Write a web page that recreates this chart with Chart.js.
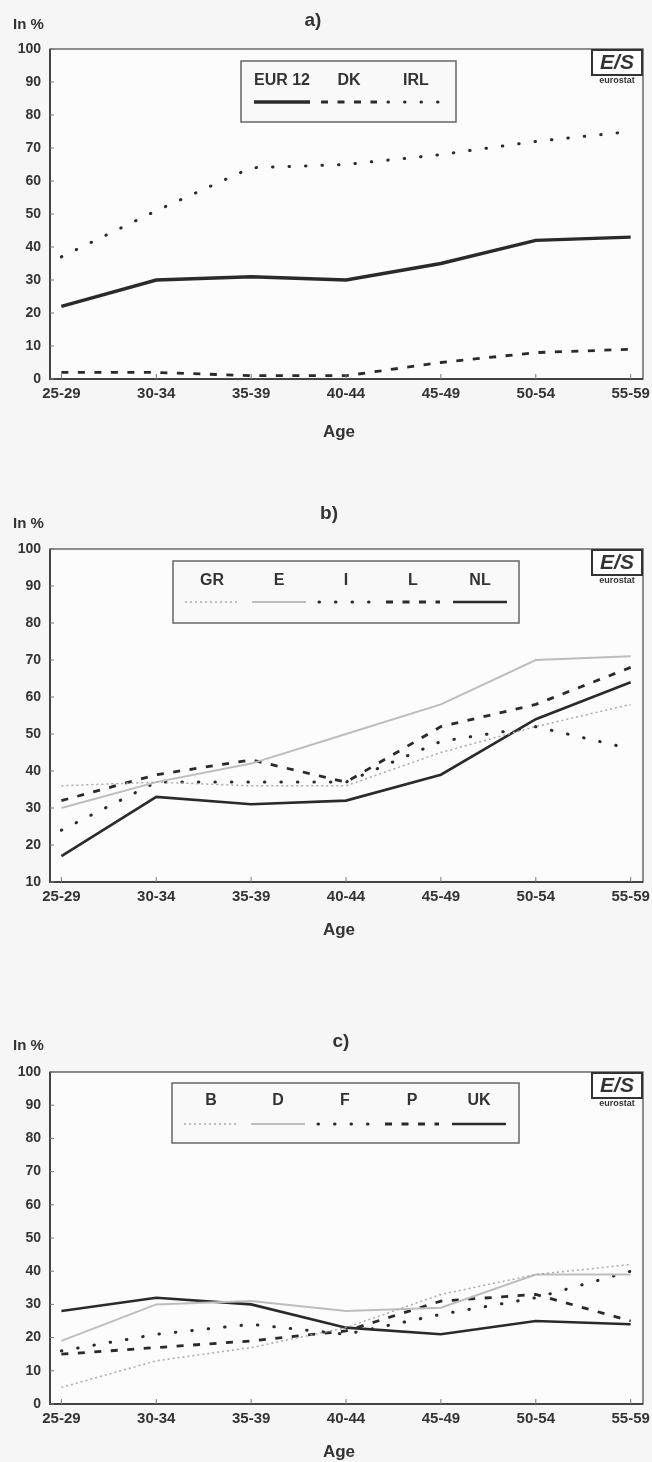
<!DOCTYPE html>
<html>
<head>
<meta charset="utf-8">
<script src="https://cdn.jsdelivr.net/npm/chart.js@4.4.1/dist/chart.umd.min.js"></script>
<style>
    body { margin: 0; background: #f6f6f6; width: 652px; height: 1462px; overflow: hidden; position: relative; }
    canvas { position: absolute; left: 0; }
</style>
</head>
<body>
<canvas id="chartA" width="652" height="470" style="top:0px"></canvas>
<canvas id="chartB" width="652" height="470" style="top:490px"></canvas>
<canvas id="chartC" width="652" height="452" style="top:1010px"></canvas>
<script>
// tick labels
const ages = ['25-29', '30-34', '35-39', '40-44', '45-49', '50-54', '55-59']
const yTicksFrom0 = [0, 10, 20, 30, 40, 50, 60, 70, 80, 90, 100]
const yTicksFrom10 = [10, 20, 30, 40, 50, 60, 70, 80, 90, 100]

// a)
const eur12 = [22, 30, 31, 30, 35, 42, 43]
const dk = [2, 2, 1, 1, 5, 8, 9]
const irl = [37, 51, 64, 65, 68, 72, 75]

// b)
const gr = [36, 37, 36, 36, 45, 52, 58]
const es = [30, 37, 42, 50, 58, 70, 71]
const it = [24, 37, 37, 37, 48, 52, 46]
const lu = [32, 39, 43, 37, 52, 58, 68]
const nl = [17, 33, 31, 32, 39, 54, 64]

// c)
const be = [5, 13, 17, 23, 33, 39, 42]
const de = [19, 30, 31, 28, 29, 39, 39]
const fr = [16, 21, 24, 21, 27, 32, 40]
const pt = [15, 17, 19, 22, 31, 33, 25]
const uk = [28, 32, 30, 23, 21, 25, 24]

const FONT = '"Liberation Sans", Arial, sans-serif'
const INK = '#2a2a2a'
const TEXT = '#333333'

// line looks
const solidThick = { borderColor: INK, borderWidth: 3.4 }
const solid = { borderColor: INK, borderWidth: 2.6 }
const dashed = { borderColor: INK, borderWidth: 2.8, borderDash: [7, 9.5] }
const dotted = { borderColor: INK, borderWidth: 3, borderDash: [0.5, 16], borderCapStyle: 'round' }
const greySolid = { borderColor: '#bdbdbd', borderWidth: 2 }
const greyDotted = { borderColor: '#a9a9a9', borderWidth: 1.5, borderDash: [2, 3] }

function toPoints(values) {
    return values.map((v, i) => ({ x: i, y: v }))
}

function makeChart(id, p) {
    let canvas = document.getElementById(id)
    let H = canvas.height

    let deco = {
        id: 'deco',
        beforeDraw(chart) {
            let a = chart.chartArea
            let ctx = chart.ctx
            ctx.save()
            ctx.fillStyle = '#fcfcfc'
            ctx.fillRect(a.left, a.top, a.right - a.left, a.bottom - a.top)
            ctx.restore()
        },
        afterDraw(chart) {
            let a = chart.chartArea
            let ctx = chart.ctx
            let xs = chart.scales.x
            let ys = chart.scales.y
            ctx.save()

            // frame
            ctx.strokeStyle = '#6a6a6a'
            ctx.lineWidth = 1.5
            ctx.strokeRect(a.left, a.top, a.right - a.left, a.bottom - a.top)
            ctx.strokeStyle = '#444'
            ctx.lineWidth = 2
            ctx.beginPath()
            ctx.moveTo(a.left, a.top)
            ctx.lineTo(a.left, a.bottom)
            ctx.lineTo(a.right, a.bottom)
            ctx.stroke()

            // small inner ticks
            ctx.lineWidth = 1
            ctx.strokeStyle = '#777'
            ctx.beginPath()
            p.yTicks.forEach(v => {
                let y = ys.getPixelForValue(v)
                ctx.moveTo(a.left, y)
                ctx.lineTo(a.left + 4, y)
            })
            ages.forEach((s, i) => {
                let x = xs.getPixelForValue(i)
                ctx.moveTo(x, a.bottom)
                ctx.lineTo(x, a.bottom - 5)
            })
            ctx.stroke()

            // legend
            let L = p.legend
            ctx.fillStyle = '#f9f9f9'
            ctx.fillRect(L.x, L.y, L.w, L.h)
            ctx.strokeStyle = '#666'
            ctx.lineWidth = 1.5
            ctx.strokeRect(L.x, L.y, L.w, L.h)
            chart.data.datasets.forEach((ds, i) => {
                let cx = L.first + i * L.step
                ctx.fillStyle = TEXT
                ctx.font = 'bold 16px ' + FONT
                ctx.textAlign = 'center'
                ctx.textBaseline = 'middle'
                ctx.fillText(ds.label, cx, L.labelY)
                ctx.strokeStyle = ds.borderColor
                ctx.lineWidth = ds.borderWidth
                ctx.lineCap = ds.borderCapStyle || 'butt'
                ctx.setLineDash(ds.borderDash || [])
                ctx.beginPath()
                ctx.moveTo(cx - L.half, L.lineY)
                ctx.lineTo(cx + L.half, L.lineY)
                ctx.stroke()
                ctx.setLineDash([])
                ctx.lineCap = 'butt'
            })

            // eurostat mark
            let bx = a.right - 51
            let by = a.top + 1
            ctx.fillStyle = '#ffffff'
            ctx.fillRect(bx, by, 50, 25)
            ctx.strokeStyle = '#333'
            ctx.lineWidth = 2
            ctx.strokeRect(bx, by, 50, 25)
            ctx.fillStyle = '#333'
            ctx.font = 'bold italic 21px ' + FONT
            ctx.textAlign = 'center'
            ctx.textBaseline = 'middle'
            ctx.fillText('E/S', bx + 25, by + 13)
            ctx.font = 'bold 9px ' + FONT
            ctx.fillText('eurostat', bx + 25, by + 31)

            // texts
            ctx.fillStyle = TEXT
            ctx.font = 'bold 19px ' + FONT
            ctx.fillText(p.title, p.titleX, p.titleY)
            ctx.font = 'bold 15px ' + FONT
            ctx.textAlign = 'left'
            ctx.fillText('In %', 13, p.unitY)
            ctx.font = 'bold 17px ' + FONT
            ctx.textAlign = 'center'
            ctx.fillText('Age', 339, p.ageY)
            ctx.restore()
        }
    }

    return new Chart(canvas.getContext('2d'), {
        type: 'line',
        data: {
            datasets: p.series.map(s => Object.assign({
                label: s.label,
                data: toPoints(s.data),
                pointRadius: 0,
                tension: 0,
                fill: false
            }, s.look))
        },
        options: {
            responsive: false,
            animation: false,
            events: [],
            layout: { padding: { top: p.top, left: 0, right: 9, bottom: 0 } },
            plugins: { legend: { display: false }, tooltip: { enabled: false } },
            scales: {
                x: {
                    type: 'linear',
                    min: -0.12,
                    max: 6.13,
                    afterBuildTicks: s => { s.ticks = ages.map((a, i) => ({ value: i })) },
                    afterFit: s => { s.height = H - p.bottom; s.paddingLeft = 0; s.paddingRight = 0 },
                    grid: { display: false, drawTicks: false },
                    border: { display: false },
                    ticks: {
                        callback: v => ages[v],
                        autoSkip: false,
                        maxRotation: 0,
                        padding: 6,
                        color: TEXT,
                        font: { family: FONT, size: 15, weight: 'bold' }
                    }
                },
                y: {
                    min: p.yTicks[0],
                    max: 100,
                    afterBuildTicks: s => { s.ticks = p.yTicks.map(v => ({ value: v })) },
                    afterFit: s => { s.width = 50; s.paddingTop = 0; s.paddingBottom = 0 },
                    grid: { display: false, drawTicks: false },
                    border: { display: false },
                    ticks: {
                        padding: 9,
                        color: TEXT,
                        font: { family: FONT, size: 14, weight: 'bold' }
                    }
                }
            }
        },
        plugins: [deco]
    })
}

makeChart('chartA', {
    title: 'a)', titleX: 313, titleY: 21, unitY: 25, ageY: 432,
    top: 49, bottom: 379, yTicks: yTicksFrom0,
    legend: { x: 241, y: 61, w: 215, h: 61, first: 282, step: 67, half: 28, labelY: 81, lineY: 102 },
    series: [
        { label: 'EUR 12', data: eur12, look: solidThick },
        { label: 'DK', data: dk, look: dashed },
        { label: 'IRL', data: irl, look: dotted }
    ]
})

makeChart('chartB', {
    title: 'b)', titleX: 329, titleY: 24, unitY: 34, ageY: 440,
    top: 59, bottom: 392, yTicks: yTicksFrom10,
    legend: { x: 173, y: 71, w: 346, h: 62, first: 212, step: 67, half: 27, labelY: 91, lineY: 112 },
    series: [
        { label: 'GR', data: gr, look: greyDotted },
        { label: 'E', data: es, look: greySolid },
        { label: 'I', data: it, look: dotted },
        { label: 'L', data: lu, look: dashed },
        { label: 'NL', data: nl, look: solid }
    ]
})

makeChart('chartC', {
    title: 'c)', titleX: 341, titleY: 32, unitY: 36, ageY: 442,
    top: 62, bottom: 394, yTicks: yTicksFrom0,
    legend: { x: 172, y: 73, w: 347, h: 60, first: 211, step: 67, half: 27, labelY: 91, lineY: 114 },
    series: [
        { label: 'B', data: be, look: greyDotted },
        { label: 'D', data: de, look: greySolid },
        { label: 'F', data: fr, look: dotted },
        { label: 'P', data: pt, look: dashed },
        { label: 'UK', data: uk, look: solid }
    ]
})
</script>
</body>
</html>
